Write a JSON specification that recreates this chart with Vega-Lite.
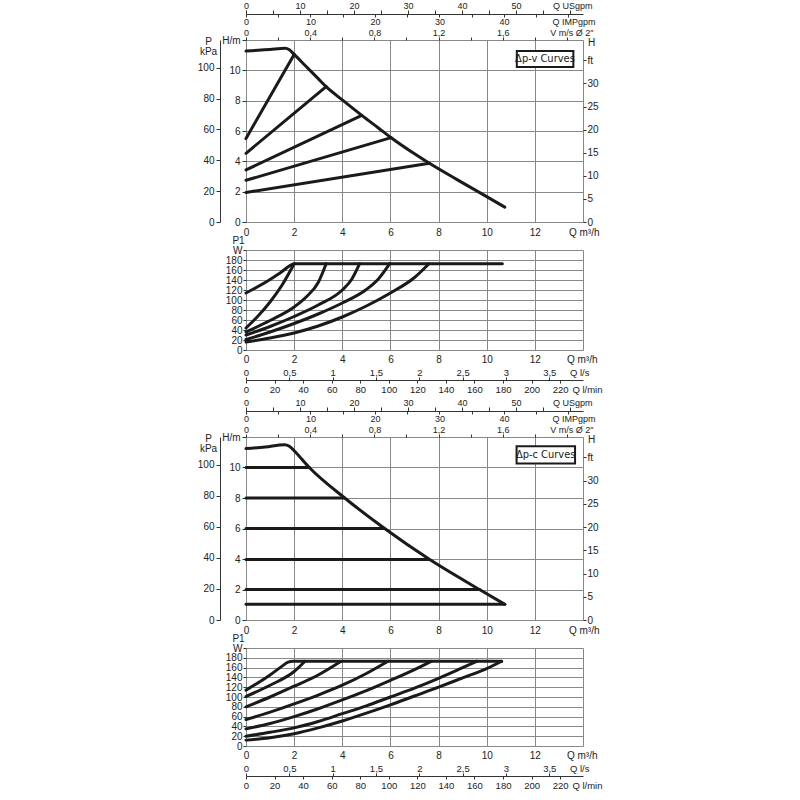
{
  "$schema": "https://vega.github.io/schema/vega-lite/v6.json",
  "padding": {"left": 197, "top": 1, "right": 5, "bottom": 5},
  "bounds": "flush",
  "spacing": 28,
  "datasets": {
    "hv": [
      {"id": "max", "Q": 0, "H": 11.27}, {"id": "max", "Q": 0.5, "H": 11.32}, {"id": "max", "Q": 1, "H": 11.38},
      {"id": "max", "Q": 1.63, "H": 11.45}, {"id": "max", "Q": 1.8, "H": 11.35}, {"id": "max", "Q": 2.0, "H": 11.05},
      {"id": "max", "Q": 2.5, "H": 10.25}, {"id": "max", "Q": 3.0, "H": 9.45}, {"id": "max", "Q": 3.33, "H": 8.92},
      {"id": "max", "Q": 4.0, "H": 8.05}, {"id": "max", "Q": 4.81, "H": 7.03}, {"id": "max", "Q": 5.5, "H": 6.2},
      {"id": "max", "Q": 6.03, "H": 5.56}, {"id": "max", "Q": 7.0, "H": 4.5}, {"id": "max", "Q": 7.62, "H": 3.87},
      {"id": "max", "Q": 8.75, "H": 2.81}, {"id": "max", "Q": 10.0, "H": 1.67}, {"id": "max", "Q": 10.75, "H": 0.98},
      {"id": "v1", "Q": 0, "H": 5.5}, {"id": "v1", "Q": 2.0, "H": 11.05},
      {"id": "v2", "Q": 0, "H": 4.53}, {"id": "v2", "Q": 3.33, "H": 8.92},
      {"id": "v3", "Q": 0, "H": 3.43}, {"id": "v3", "Q": 4.81, "H": 7.03},
      {"id": "v4", "Q": 0, "H": 2.75}, {"id": "v4", "Q": 6.03, "H": 5.56},
      {"id": "v5", "Q": 0, "H": 1.95}, {"id": "v5", "Q": 7.62, "H": 3.87}
    ],
    "pv": [
      {"id": "max", "Q": 0, "P": 114}, {"id": "max", "Q": 1, "P": 141}, {"id": "max", "Q": 1.5, "P": 157},
      {"id": "max", "Q": 1.8, "P": 168}, {"id": "max", "Q": 2.0, "P": 172.6}, {"id": "max", "Q": 10.65, "P": 172.6},
      {"id": "p1", "Q": 0, "P": 44}, {"id": "p1", "Q": 0.5, "P": 68}, {"id": "p1", "Q": 1, "P": 96},
      {"id": "p1", "Q": 1.5, "P": 130}, {"id": "p1", "Q": 2.0, "P": 172.6},
      {"id": "p2", "Q": 0, "P": 36}, {"id": "p2", "Q": 1, "P": 59}, {"id": "p2", "Q": 2, "P": 86},
      {"id": "p2", "Q": 2.5, "P": 106}, {"id": "p2", "Q": 3, "P": 135}, {"id": "p2", "Q": 3.33, "P": 172.6},
      {"id": "p3", "Q": 0, "P": 30}, {"id": "p3", "Q": 1, "P": 47}, {"id": "p3", "Q": 2, "P": 67},
      {"id": "p3", "Q": 3, "P": 90}, {"id": "p3", "Q": 4, "P": 120}, {"id": "p3", "Q": 4.4, "P": 142},
      {"id": "p3", "Q": 4.72, "P": 172.6},
      {"id": "p4", "Q": 0, "P": 21}, {"id": "p4", "Q": 1, "P": 36}, {"id": "p4", "Q": 2, "P": 53},
      {"id": "p4", "Q": 3, "P": 72}, {"id": "p4", "Q": 4, "P": 94}, {"id": "p4", "Q": 5, "P": 121},
      {"id": "p4", "Q": 5.5, "P": 142}, {"id": "p4", "Q": 5.97, "P": 172.6},
      {"id": "p5", "Q": 0, "P": 16}, {"id": "p5", "Q": 1, "P": 24}, {"id": "p5", "Q": 2, "P": 34},
      {"id": "p5", "Q": 3, "P": 48}, {"id": "p5", "Q": 4, "P": 66}, {"id": "p5", "Q": 5, "P": 88},
      {"id": "p5", "Q": 6, "P": 114}, {"id": "p5", "Q": 7, "P": 145}, {"id": "p5", "Q": 7.6, "P": 172.6}
    ],
    "hc": [
      {"id": "max", "Q": 0, "H": 11.24}, {"id": "max", "Q": 0.8, "H": 11.35}, {"id": "max", "Q": 1.6, "H": 11.5},
      {"id": "max", "Q": 1.8, "H": 11.4}, {"id": "max", "Q": 2.0, "H": 11.1}, {"id": "max", "Q": 2.63, "H": 10},
      {"id": "max", "Q": 4.1, "H": 8}, {"id": "max", "Q": 5.76, "H": 6}, {"id": "max", "Q": 7.6, "H": 4},
      {"id": "max", "Q": 9.7, "H": 2}, {"id": "max", "Q": 10.75, "H": 1.03},
      {"id": "c10", "Q": 0, "H": 10}, {"id": "c10", "Q": 2.63, "H": 10},
      {"id": "c8", "Q": 0, "H": 8}, {"id": "c8", "Q": 4.1, "H": 8},
      {"id": "c6", "Q": 0, "H": 6}, {"id": "c6", "Q": 5.76, "H": 6},
      {"id": "c4", "Q": 0, "H": 3.97}, {"id": "c4", "Q": 7.6, "H": 3.97},
      {"id": "c2", "Q": 0, "H": 2}, {"id": "c2", "Q": 9.7, "H": 2},
      {"id": "c1", "Q": 0, "H": 1.03}, {"id": "c1", "Q": 10.75, "H": 1.03}
    ],
    "pc": [
      {"id": "max", "Q": 0, "P": 114}, {"id": "max", "Q": 1, "P": 145}, {"id": "max", "Q": 1.5, "P": 163},
      {"id": "max", "Q": 1.75, "P": 171}, {"id": "max", "Q": 1.95, "P": 173}, {"id": "max", "Q": 10.62, "P": 173},
      {"id": "a", "Q": 0, "P": 101}, {"id": "a", "Q": 1, "P": 124}, {"id": "a", "Q": 2, "P": 152}, {"id": "a", "Q": 2.45, "P": 173},
      {"id": "b", "Q": 0, "P": 80}, {"id": "b", "Q": 1, "P": 100}, {"id": "b", "Q": 2, "P": 122},
      {"id": "b", "Q": 3, "P": 145}, {"id": "b", "Q": 3.95, "P": 173},
      {"id": "c", "Q": 0, "P": 54}, {"id": "c", "Q": 1, "P": 69}, {"id": "c", "Q": 2, "P": 86}, {"id": "c", "Q": 3, "P": 104},
      {"id": "c", "Q": 4, "P": 124}, {"id": "c", "Q": 5, "P": 148}, {"id": "c", "Q": 5.9, "P": 173},
      {"id": "d", "Q": 0, "P": 35}, {"id": "d", "Q": 1, "P": 46}, {"id": "d", "Q": 2, "P": 60}, {"id": "d", "Q": 3, "P": 76},
      {"id": "d", "Q": 4, "P": 94}, {"id": "d", "Q": 5, "P": 113}, {"id": "d", "Q": 6, "P": 134}, {"id": "d", "Q": 7, "P": 156},
      {"id": "d", "Q": 7.7, "P": 173},
      {"id": "e", "Q": 0, "P": 20}, {"id": "e", "Q": 1, "P": 28}, {"id": "e", "Q": 2, "P": 37}, {"id": "e", "Q": 3, "P": 50},
      {"id": "e", "Q": 4, "P": 66}, {"id": "e", "Q": 5, "P": 82}, {"id": "e", "Q": 6, "P": 100}, {"id": "e", "Q": 7, "P": 118},
      {"id": "e", "Q": 8, "P": 138}, {"id": "e", "Q": 9, "P": 160}, {"id": "e", "Q": 9.6, "P": 173},
      {"id": "f", "Q": 0, "P": 12}, {"id": "f", "Q": 1, "P": 17}, {"id": "f", "Q": 2, "P": 25}, {"id": "f", "Q": 3, "P": 37},
      {"id": "f", "Q": 4, "P": 51}, {"id": "f", "Q": 5, "P": 67}, {"id": "f", "Q": 6, "P": 84}, {"id": "f", "Q": 7, "P": 102},
      {"id": "f", "Q": 8, "P": 120}, {"id": "f", "Q": 9, "P": 139}, {"id": "f", "Q": 10, "P": 158}, {"id": "f", "Q": 10.62, "P": 173}
    ]
  },
  "vconcat": [
    {
      "width": 337,
      "height": 182,
      "resolve": {"scale": {"x": "independent", "y": "independent"}},
      "layer": [
        {
          "data": {"name": "hv"},
          "mark": {"type": "line", "color": "#1a1a1a", "strokeWidth": 3, "strokeJoin": "round", "strokeCap": "round", "interpolate": "monotone"},
          "encoding": {
            "x": {"field": "Q", "type": "quantitative", "scale": {"domain": [0, 14], "nice": false},
              "axis": {"values": [0, 2, 4, 6, 8, 10, 12, 14], "labelExpr": "datum.value == 14 ? '' : datum.label", "grid": true, "ticks": false, "domain": false, "labelPadding": 5,
                "title": "Q m³/h", "titleX": 353, "titleY": 5, "titleAlign": "right", "titleBaseline": "top"}},
            "y": {"field": "H", "type": "quantitative", "scale": {"domain": [0, 12], "nice": false},
              "axis": {"values": [0, 2, 4, 6, 8, 10, 12], "grid": true, "domain": false, "tickSize": 4, "labelPadding": 2,
                "labelExpr": "datum.value == 12 ? 'H/m' : datum.label", "title": null}},
            "detail": {"field": "id", "type": "nominal"}
          }
        },
        {
          "data": {"values": [{}]},
          "mark": {"type": "rect", "fill": "white", "stroke": "#1a1a1a", "strokeWidth": 2},
          "encoding": {
            "x": {"datum": 11.25, "type": "quantitative", "scale": {"domain": [0, 14], "nice": false}, "axis": null},
            "x2": {"datum": 13.6},
            "y": {"datum": 11.27, "type": "quantitative", "scale": {"domain": [0, 12], "nice": false}, "axis": null},
            "y2": {"datum": 10.22}
          }
        },
        {
          "data": {"values": [{}]},
          "mark": {"type": "text", "text": "Δp-v Curves", "font": "DejaVu Sans Condensed, Liberation Sans Narrow, Liberation Sans", "fontSize": 11, "color": "#1a1a1a"},
          "encoding": {
            "x": {"datum": 12.42, "type": "quantitative", "scale": {"domain": [0, 14], "nice": false}, "axis": null},
            "y": {"datum": 10.74, "type": "quantitative", "scale": {"domain": [0, 12], "nice": false}, "axis": null}
          }
        },
        {
          "data": {"values": [{}]},
          "mark": {"type": "point", "opacity": 0},
          "encoding": {
            "x": {"datum": 0, "type": "quantitative", "scale": {"domain": [0, 14], "nice": false}, "axis": null},
            "y": {"datum": 0, "type": "quantitative", "scale": {"domain": [0, 118], "nice": false},
              "axis": {"orient": "left", "offset": 26, "values": [0, 20, 40, 60, 80, 100], "grid": false, "tickSize": 4, "labelPadding": 2,
                "title": ["P", "kPa"], "titleAngle": 0, "titleX": -12, "titleY": -4, "titleAlign": "center", "titleBaseline": "top", "titleLineHeight": 10}}
          }
        },
        {
          "data": {"values": [{}]},
          "mark": {"type": "point", "opacity": 0},
          "encoding": {
            "x": {"datum": 0, "type": "quantitative", "scale": {"domain": [0, 14], "nice": false}, "axis": null},
            "y": {"datum": 0, "type": "quantitative", "scale": {"domain": [0, 39.4], "nice": false},
              "axis": {"orient": "right", "values": [0, 5, 10, 15, 20, 25, 30, 35], "grid": false, "domain": false, "tickSize": 3, "labelPadding": 1,
                "labelExpr": "datum.value == 35 ? 'ft' : datum.label",
                "title": "H", "titleAngle": 0, "titleX": 8, "titleY": 2, "titleAlign": "center", "titleBaseline": "middle"}}
          }
        },
        {
          "data": {"values": [{}]},
          "mark": {"type": "point", "opacity": 0},
          "encoding": {
            "y": {"datum": 0, "type": "quantitative", "scale": {"domain": [0, 12], "nice": false}, "axis": null},
            "x": {"datum": 0, "type": "quantitative", "scale": {"domain": [0, 62.4], "nice": false},
              "axis": {"orient": "top", "offset": 26, "values": [0, 5, 10, 15, 20, 25, 30, 35, 40, 45, 50, 55, 60], "grid": false, "domain": true,
                "tickSize": 4, "labelPadding": 0, "labelFontSize": 9, "titleFontSize": 9,
                "labelExpr": "datum.value % 10 == 0 && datum.value <= 50 ? datum.label : ''",
                "title": "Q USgpm", "titleX": 346, "titleY": -4, "titleAlign": "right", "titleBaseline": "bottom"}}
          }
        },
        {
          "data": {"values": [{}]},
          "mark": {"type": "point", "opacity": 0},
          "encoding": {
            "y": {"datum": 0, "type": "quantitative", "scale": {"domain": [0, 12], "nice": false}, "axis": null},
            "x": {"datum": 0, "type": "quantitative", "scale": {"domain": [0, 52.25], "nice": false},
              "axis": {"orient": "bottom", "offset": -208, "values": [0, 5, 10, 15, 20, 25, 30, 35, 40, 45, 50], "grid": false, "domain": false,
                "tickSize": 3, "labelPadding": 0, "labelFontSize": 9, "titleFontSize": 9,
                "labelExpr": "datum.value % 10 == 0 && datum.value <= 40 ? datum.label : ''",
                "title": "Q IMPgpm", "titleX": 349, "titleY": 3, "titleAlign": "right", "titleBaseline": "top"}}
          }
        },
        {
          "data": {"values": [{}]},
          "mark": {"type": "point", "opacity": 0},
          "encoding": {
            "y": {"datum": 0, "type": "quantitative", "scale": {"domain": [0, 12], "nice": false}, "axis": null},
            "x": {"datum": 0, "type": "quantitative", "scale": {"domain": [0, 2.1], "nice": false},
              "axis": {"orient": "top", "values": [0, 0.2, 0.4, 0.6, 0.8, 1.0, 1.2, 1.4, 1.6, 1.8, 2.0], "grid": false, "domain": false,
                "tickSize": 3, "labelPadding": 0, "labelFontSize": 9, "titleFontSize": 9,
                "labelExpr": "round(datum.value * 10) % 4 == 0 && datum.value < 1.7 ? replace(format(datum.value, '.1~f'), '.', ',') : ''",
                "title": "V m/s Ø 2\"", "titleX": 347, "titleY": -3, "titleAlign": "right", "titleBaseline": "bottom"}}
          }
        }
      ]
    },
    {
      "width": 337,
      "height": 100,
      "resolve": {"scale": {"x": "independent", "y": "independent"}},
      "layer": [
        {
          "data": {"name": "pv"},
          "mark": {"type": "line", "color": "#1a1a1a", "strokeWidth": 3, "strokeJoin": "round", "strokeCap": "round", "interpolate": "monotone"},
          "encoding": {
            "x": {"field": "Q", "type": "quantitative", "scale": {"domain": [0, 14], "nice": false},
              "axis": {"values": [0, 2, 4, 6, 8, 10, 12, 14], "labelExpr": "datum.value == 14 ? '' : datum.label", "grid": true, "ticks": false, "domain": false, "labelPadding": 4,
                "title": "Q m³/h", "titleX": 351, "titleY": 4, "titleAlign": "right", "titleBaseline": "top"}},
            "y": {"field": "P", "type": "quantitative", "scale": {"domain": [0, 200], "nice": false},
              "axis": {"values": [0, 20, 40, 60, 80, 100, 120, 140, 160, 180, 200], "grid": true, "domain": false, "tickSize": 3, "labelPadding": 1,
                "labelExpr": "datum.value == 200 ? 'W' : datum.label",
                "title": "P1", "titleAngle": 0, "titleX": -8, "titleY": -10, "titleAlign": "center", "titleBaseline": "middle"}},
            "detail": {"field": "id", "type": "nominal"}
          }
        },
        {
          "data": {"values": [{}]},
          "mark": {"type": "point", "opacity": 0},
          "encoding": {
            "y": {"datum": 0, "type": "quantitative", "scale": {"domain": [0, 200], "nice": false}, "axis": null},
            "x": {"datum": 0, "type": "quantitative", "scale": {"domain": [0, 3.889], "nice": false},
              "axis": {"orient": "top", "offset": -130, "values": [0, 0.5, 1, 1.5, 2, 2.5, 3, 3.5], "format": ".1~f",
                "labelExpr": "replace(datum.label, '.', ',')", "grid": false, "domain": false, "tickSize": 3, "labelPadding": 0,
                "labelFontSize": 9.5, "titleFontSize": 9.5,
                "title": "Q l/s", "titleX": 343, "titleY": -3, "titleAlign": "right", "titleBaseline": "bottom"}}
          }
        },
        {
          "data": {"values": [{}]},
          "mark": {"type": "point", "opacity": 0},
          "encoding": {
            "y": {"datum": 0, "type": "quantitative", "scale": {"domain": [0, 200], "nice": false}, "axis": null},
            "x": {"datum": 0, "type": "quantitative", "scale": {"domain": [0, 236], "nice": false},
              "axis": {"orient": "bottom", "offset": 30, "values": [0, 20, 40, 60, 80, 100, 120, 140, 160, 180, 200, 220], "grid": false, "domain": true,
                "tickSize": 3, "labelPadding": 1, "labelFontSize": 9.5, "titleFontSize": 9.5,
                "title": "Q l/min", "titleX": 356, "titleY": 4, "titleAlign": "right", "titleBaseline": "top"}}
          }
        }
      ]
    },
    {
      "width": 337,
      "height": 31,
      "data": {"values": [{}]},
      "mark": {"type": "point", "opacity": 0},
      "encoding": {
        "x": {"datum": 0, "type": "quantitative", "axis": null},
        "y": {"datum": 0, "type": "quantitative", "axis": null}
      }
    },
    {
      "width": 337,
      "height": 183,
      "resolve": {"scale": {"x": "independent", "y": "independent"}},
      "layer": [
        {
          "data": {"name": "hc"},
          "mark": {"type": "line", "color": "#1a1a1a", "strokeWidth": 3, "strokeJoin": "round", "strokeCap": "round", "interpolate": "monotone"},
          "encoding": {
            "x": {"field": "Q", "type": "quantitative", "scale": {"domain": [0, 14], "nice": false},
              "axis": {"values": [0, 2, 4, 6, 8, 10, 12, 14], "labelExpr": "datum.value == 14 ? '' : datum.label", "grid": true, "ticks": false, "domain": false, "labelPadding": 5,
                "title": "Q m³/h", "titleX": 353, "titleY": 5, "titleAlign": "right", "titleBaseline": "top"}},
            "y": {"field": "H", "type": "quantitative", "scale": {"domain": [0, 12], "nice": false},
              "axis": {"values": [0, 2, 4, 6, 8, 10, 12], "grid": true, "domain": false, "tickSize": 4, "labelPadding": 2,
                "labelExpr": "datum.value == 12 ? 'H/m' : datum.label", "title": null}},
            "detail": {"field": "id", "type": "nominal"}
          }
        },
        {
          "data": {"values": [{}]},
          "mark": {"type": "rect", "fill": "white", "stroke": "#1a1a1a", "strokeWidth": 2},
          "encoding": {
            "x": {"datum": 11.24, "type": "quantitative", "scale": {"domain": [0, 14], "nice": false}, "axis": null},
            "x2": {"datum": 13.67},
            "y": {"datum": 11.4, "type": "quantitative", "scale": {"domain": [0, 12], "nice": false}, "axis": null},
            "y2": {"datum": 10.26}
          }
        },
        {
          "data": {"values": [{}]},
          "mark": {"type": "text", "text": "Δp-c Curves", "font": "DejaVu Sans Condensed, Liberation Sans Narrow, Liberation Sans", "fontSize": 11, "color": "#1a1a1a"},
          "encoding": {
            "x": {"datum": 12.45, "type": "quantitative", "scale": {"domain": [0, 14], "nice": false}, "axis": null},
            "y": {"datum": 10.83, "type": "quantitative", "scale": {"domain": [0, 12], "nice": false}, "axis": null}
          }
        },
        {
          "data": {"values": [{}]},
          "mark": {"type": "point", "opacity": 0},
          "encoding": {
            "x": {"datum": 0, "type": "quantitative", "scale": {"domain": [0, 14], "nice": false}, "axis": null},
            "y": {"datum": 0, "type": "quantitative", "scale": {"domain": [0, 118], "nice": false},
              "axis": {"orient": "left", "offset": 26, "values": [0, 20, 40, 60, 80, 100], "grid": false, "tickSize": 4, "labelPadding": 2,
                "title": ["P", "kPa"], "titleAngle": 0, "titleX": -12, "titleY": -4, "titleAlign": "center", "titleBaseline": "top", "titleLineHeight": 10}}
          }
        },
        {
          "data": {"values": [{}]},
          "mark": {"type": "point", "opacity": 0},
          "encoding": {
            "x": {"datum": 0, "type": "quantitative", "scale": {"domain": [0, 14], "nice": false}, "axis": null},
            "y": {"datum": 0, "type": "quantitative", "scale": {"domain": [0, 39.4], "nice": false},
              "axis": {"orient": "right", "values": [0, 5, 10, 15, 20, 25, 30, 35], "grid": false, "domain": false, "tickSize": 3, "labelPadding": 1,
                "labelExpr": "datum.value == 35 ? 'ft' : datum.label",
                "title": "H", "titleAngle": 0, "titleX": 8, "titleY": 2, "titleAlign": "center", "titleBaseline": "middle"}}
          }
        },
        {
          "data": {"values": [{}]},
          "mark": {"type": "point", "opacity": 0},
          "encoding": {
            "y": {"datum": 0, "type": "quantitative", "scale": {"domain": [0, 12], "nice": false}, "axis": null},
            "x": {"datum": 0, "type": "quantitative", "scale": {"domain": [0, 62.4], "nice": false},
              "axis": {"orient": "top", "offset": 26, "values": [0, 5, 10, 15, 20, 25, 30, 35, 40, 45, 50, 55, 60], "grid": false, "domain": true,
                "tickSize": 4, "labelPadding": 0, "labelFontSize": 9, "titleFontSize": 9,
                "labelExpr": "datum.value % 10 == 0 && datum.value <= 50 ? datum.label : ''",
                "title": "Q USgpm", "titleX": 346, "titleY": -4, "titleAlign": "right", "titleBaseline": "bottom"}}
          }
        },
        {
          "data": {"values": [{}]},
          "mark": {"type": "point", "opacity": 0},
          "encoding": {
            "y": {"datum": 0, "type": "quantitative", "scale": {"domain": [0, 12], "nice": false}, "axis": null},
            "x": {"datum": 0, "type": "quantitative", "scale": {"domain": [0, 52.25], "nice": false},
              "axis": {"orient": "bottom", "offset": -209, "values": [0, 5, 10, 15, 20, 25, 30, 35, 40, 45, 50], "grid": false, "domain": false,
                "tickSize": 3, "labelPadding": 0, "labelFontSize": 9, "titleFontSize": 9,
                "labelExpr": "datum.value % 10 == 0 && datum.value <= 40 ? datum.label : ''",
                "title": "Q IMPgpm", "titleX": 349, "titleY": 3, "titleAlign": "right", "titleBaseline": "top"}}
          }
        },
        {
          "data": {"values": [{}]},
          "mark": {"type": "point", "opacity": 0},
          "encoding": {
            "y": {"datum": 0, "type": "quantitative", "scale": {"domain": [0, 12], "nice": false}, "axis": null},
            "x": {"datum": 0, "type": "quantitative", "scale": {"domain": [0, 2.1], "nice": false},
              "axis": {"orient": "top", "values": [0, 0.2, 0.4, 0.6, 0.8, 1.0, 1.2, 1.4, 1.6, 1.8, 2.0], "grid": false, "domain": false,
                "tickSize": 3, "labelPadding": 0, "labelFontSize": 9, "titleFontSize": 9,
                "labelExpr": "round(datum.value * 10) % 4 == 0 && datum.value < 1.7 ? replace(format(datum.value, '.1~f'), '.', ',') : ''",
                "title": "V m/s Ø 2\"", "titleX": 347, "titleY": -3, "titleAlign": "right", "titleBaseline": "bottom"}}
          }
        }
      ]
    },
    {
      "width": 337,
      "height": 98,
      "resolve": {"scale": {"x": "independent", "y": "independent"}},
      "layer": [
        {
          "data": {"name": "pc"},
          "mark": {"type": "line", "color": "#1a1a1a", "strokeWidth": 3, "strokeJoin": "round", "strokeCap": "round", "interpolate": "monotone"},
          "encoding": {
            "x": {"field": "Q", "type": "quantitative", "scale": {"domain": [0, 14], "nice": false},
              "axis": {"values": [0, 2, 4, 6, 8, 10, 12, 14], "labelExpr": "datum.value == 14 ? '' : datum.label", "grid": true, "ticks": false, "domain": false, "labelPadding": 4,
                "title": "Q m³/h", "titleX": 351, "titleY": 4, "titleAlign": "right", "titleBaseline": "top"}},
            "y": {"field": "P", "type": "quantitative", "scale": {"domain": [0, 200], "nice": false},
              "axis": {"values": [0, 20, 40, 60, 80, 100, 120, 140, 160, 180, 200], "grid": true, "domain": false, "tickSize": 3, "labelPadding": 1,
                "labelExpr": "datum.value == 200 ? 'W' : datum.label",
                "title": "P1", "titleAngle": 0, "titleX": -8, "titleY": -10, "titleAlign": "center", "titleBaseline": "middle"}},
            "detail": {"field": "id", "type": "nominal"}
          }
        },
        {
          "data": {"values": [{}]},
          "mark": {"type": "point", "opacity": 0},
          "encoding": {
            "y": {"datum": 0, "type": "quantitative", "scale": {"domain": [0, 200], "nice": false}, "axis": null},
            "x": {"datum": 0, "type": "quantitative", "scale": {"domain": [0, 3.889], "nice": false},
              "axis": {"orient": "top", "offset": -128, "values": [0, 0.5, 1, 1.5, 2, 2.5, 3, 3.5], "format": ".1~f",
                "labelExpr": "replace(datum.label, '.', ',')", "grid": false, "domain": false, "tickSize": 3, "labelPadding": 0,
                "labelFontSize": 9.5, "titleFontSize": 9.5,
                "title": "Q l/s", "titleX": 343, "titleY": -3, "titleAlign": "right", "titleBaseline": "bottom"}}
          }
        },
        {
          "data": {"values": [{}]},
          "mark": {"type": "point", "opacity": 0},
          "encoding": {
            "y": {"datum": 0, "type": "quantitative", "scale": {"domain": [0, 200], "nice": false}, "axis": null},
            "x": {"datum": 0, "type": "quantitative", "scale": {"domain": [0, 236], "nice": false},
              "axis": {"orient": "bottom", "offset": 30, "values": [0, 20, 40, 60, 80, 100, 120, 140, 160, 180, 200, 220], "grid": false, "domain": true,
                "tickSize": 3, "labelPadding": 1, "labelFontSize": 9.5, "titleFontSize": 9.5,
                "title": "Q l/min", "titleX": 356, "titleY": 4, "titleAlign": "right", "titleBaseline": "top"}}
          }
        }
      ]
    }
  ],
  "config": {
    "font": "Liberation Sans",
    "view": {"stroke": null},
    "axis": {
      "labelFont": "Liberation Sans", "labelFontSize": 10, "labelColor": "#222",
      "titleFont": "Liberation Sans", "titleFontSize": 10, "titleFontWeight": "normal", "titleColor": "#222",
      "tickColor": "#333", "domainColor": "#333", "gridColor": "#888", "gridWidth": 1,
      "labelOverlap": false, "labelFlush": false
    }
  }
}
